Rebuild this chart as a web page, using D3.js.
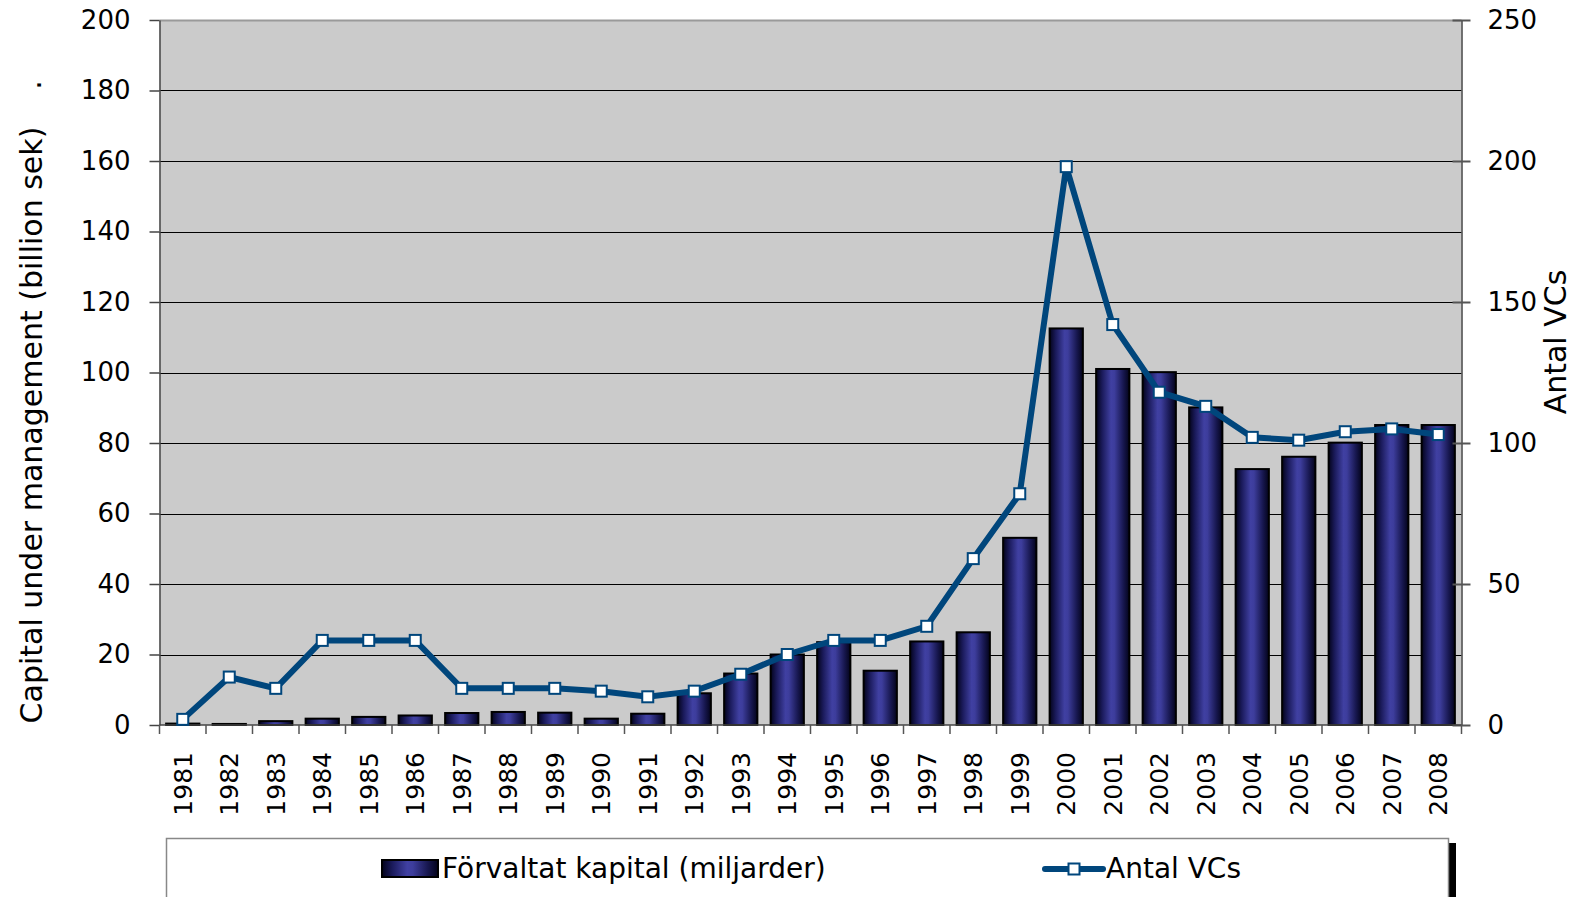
<!DOCTYPE html>
<html>
<head>
<meta charset="utf-8">
<script src="https://cdn.jsdelivr.net/npm/d3@7"></script>
<style>
  html, body { margin: 0; padding: 0; background: #ffffff; }
  svg { display: block; font-family: "DejaVu Sans", Verdana, sans-serif; }
</style>
</head>
<body>
<svg id="chart" width="1581" height="897"></svg>
<script>
// Swedish venture capital: capital under management and number of firms
const years = ["1981","1982","1983","1984","1985","1986","1987","1988","1989","1990",
  "1991","1992","1993","1994","1995","1996","1997","1998","1999","2000",
  "2001","2002","2003","2004","2005","2006","2007","2008"];
const capital = [0.4, 0.3, 1.1, 1.8, 2.3, 2.7, 3.4, 3.7, 3.5, 1.8,
  3.2, 9.0, 14.6, 20.0, 23.5, 15.4, 23.7, 26.3, 53.1, 112.5,
  101.0, 100.1, 90.1, 72.6, 76.1, 80.1, 85.1, 85.1];
const vcCount = [2, 17, 13, 30, 30, 30, 13, 13, 13, 12,
  10, 12, 18, 25, 30, 30, 35, 59, 82, 198,
  142, 118, 113, 102, 101, 104, 105, 103];
const leftTicks = [0, 20, 40, 60, 80, 100, 120, 140, 160, 180, 200];
const rightTicks = [0, 50, 100, 150, 200, 250];
const seriesNames = ["Förvaltat kapital (miljarder)", "Antal VCs"];
const leftTitle = "Capital under management (billion sek)";
const rightTitle = "Antal VCs";

const svg = d3.select("#chart");
const plot = { left: 159.5, right: 1461.5, top: 20, bottom: 725 };
const lineColor = "#00467c";

const x = d3.scaleBand().domain(years).range([plot.left, plot.right]).paddingInner(0).paddingOuter(0);
const yL = d3.scaleLinear().domain([0, 200]).range([plot.bottom, plot.top]);
const yR = d3.scaleLinear().domain([0, 250]).range([plot.bottom, plot.top]);

// bar shading: dark edges, lighter blue core
const defs = svg.append("defs");
const grad = defs.append("linearGradient").attr("id", "barGrad")
  .attr("x1", "0").attr("x2", "1").attr("y1", "0").attr("y2", "0");
[["0%", "#03031a"], ["18%", "#1a1a5a"], ["45%", "#4040a2"], ["55%", "#3d3d9c"], ["82%", "#17174f"], ["100%", "#03031a"]]
  .forEach(([o, c]) => grad.append("stop").attr("offset", o).attr("stop-color", c));

// plot background
svg.append("rect")
  .attr("x", plot.left).attr("y", plot.top)
  .attr("width", plot.right - plot.left).attr("height", plot.bottom - plot.top)
  .attr("fill", "#cbcbcb");

// horizontal gridlines
svg.append("g").selectAll("line")
  .data(leftTicks.filter(d => d > 0 && d < 200))
  .join("line")
  .attr("x1", plot.left).attr("x2", plot.right)
  .attr("y1", d => Math.round(yL(d)) + 0.5).attr("y2", d => Math.round(yL(d)) + 0.5)
  .attr("stroke", "#000").attr("stroke-width", 1.2);

// top border
svg.append("line")
  .attr("x1", plot.left).attr("x2", plot.right)
  .attr("y1", plot.top + 0.5).attr("y2", plot.top + 0.5)
  .attr("stroke", "#9a9a9a").attr("stroke-width", 2);

// bars
const bw = x.bandwidth() * 0.715;
svg.append("g").selectAll("rect")
  .data(years.map((yr, i) => ({ yr, v: capital[i] })))
  .join("rect")
  .attr("x", d => x(d.yr) + (x.bandwidth() - bw) / 2)
  .attr("y", d => yL(d.v))
  .attr("width", bw)
  .attr("height", d => yL(0) - yL(d.v))
  .attr("fill", "url(#barGrad)")
  .attr("stroke", "#000").attr("stroke-width", 2);

// left axis
const gL = svg.append("g").attr("transform", `translate(${plot.left},0)`)
  .call(d3.axisLeft(yL).tickValues(leftTicks).tickSize(10).tickSizeOuter(0).tickPadding(19));
gL.select(".domain").attr("stroke", "#444").attr("stroke-width", 1.5);
gL.selectAll(".tick line").attr("stroke", "#444").attr("stroke-width", 1.5);
gL.selectAll(".tick text").attr("font-size", 26).attr("fill", "#000")
  .attr("font-family", "'DejaVu Sans', Verdana, sans-serif");

// right axis (ticks cross the axis line)
const gR = svg.append("g").attr("transform", `translate(${plot.right},0)`)
  .call(d3.axisRight(yR).tickValues(rightTicks).tickSize(9).tickSizeOuter(0).tickPadding(17));
gR.select(".domain").attr("stroke", "#444").attr("stroke-width", 1.5);
gR.selectAll(".tick line").attr("x1", -9).attr("stroke", "#555").attr("stroke-width", 2);
gR.selectAll(".tick text").attr("font-size", 26).attr("fill", "#000")
  .attr("font-family", "'DejaVu Sans', Verdana, sans-serif");

// bottom axis: ticks between categories
const gB = svg.append("g");
gB.append("line")
  .attr("x1", plot.left).attr("x2", plot.right)
  .attr("y1", plot.bottom).attr("y2", plot.bottom)
  .attr("stroke", "#444").attr("stroke-width", 1.5);
gB.selectAll("line.tk")
  .data(years.concat(["end"]))
  .join("line").attr("class", "tk")
  .attr("x1", (d, i) => plot.left + i * x.step())
  .attr("x2", (d, i) => plot.left + i * x.step())
  .attr("y1", plot.bottom).attr("y2", plot.bottom + 9)
  .attr("stroke", "#555").attr("stroke-width", 1.5);
gB.selectAll("text")
  .data(years)
  .join("text")
  .attr("transform", d => `translate(${x(d) + x.bandwidth() / 2},752) rotate(-90)`)
  .attr("text-anchor", "end")
  .attr("dy", "0.36em")
  .attr("font-size", 25)
  .attr("fill", "#000")
  .text(d => d);

// VC count line
const line = d3.line()
  .x((d, i) => x(years[i]) + x.bandwidth() / 2)
  .y(d => yR(d));
svg.append("path")
  .datum(vcCount)
  .attr("d", line)
  .attr("fill", "none")
  .attr("stroke", lineColor)
  .attr("stroke-width", 6)
  .attr("stroke-linejoin", "miter");

const ms = 11;
svg.append("g").selectAll("rect")
  .data(vcCount)
  .join("rect")
  .attr("x", (d, i) => x(years[i]) + x.bandwidth() / 2 - ms / 2)
  .attr("y", d => yR(d) - ms / 2)
  .attr("width", ms).attr("height", ms)
  .attr("fill", "#fff")
  .attr("stroke", lineColor).attr("stroke-width", 2);

// axis titles
svg.append("text")
  .attr("transform", "translate(42,425) rotate(-90)")
  .attr("text-anchor", "middle")
  .attr("font-size", 30)
  .attr("fill", "#000")
  .text(leftTitle);
svg.append("text")
  .attr("transform", "translate(41,85) rotate(-90)")
  .attr("text-anchor", "middle")
  .attr("font-size", 30)
  .attr("fill", "#000")
  .text(".");
svg.append("text")
  .attr("transform", "translate(1566,342) rotate(-90)")
  .attr("text-anchor", "middle")
  .attr("font-size", 30)
  .attr("fill", "#000")
  .text(rightTitle);

// legend box with drop shadow on the right
const lg = svg.append("g");
lg.append("rect")
  .attr("x", 1449).attr("y", 843).attr("width", 7).attr("height", 60)
  .attr("fill", "#000");
lg.append("rect")
  .attr("x", 166.5).attr("y", 838.5).attr("width", 1282).attr("height", 70)
  .attr("fill", "#fff").attr("stroke", "#888").attr("stroke-width", 1.5);

lg.append("rect")
  .attr("x", 382).attr("y", 860).attr("width", 56).attr("height", 17)
  .attr("fill", "url(#barGrad)").attr("stroke", "#000").attr("stroke-width", 2);
lg.append("text")
  .attr("x", 442).attr("y", 878)
  .attr("font-size", 28).attr("fill", "#000")
  .text(seriesNames[0]);

lg.append("line")
  .attr("x1", 1045).attr("x2", 1103).attr("y1", 869).attr("y2", 869)
  .attr("stroke", lineColor).attr("stroke-width", 6).attr("stroke-linecap", "round");
lg.append("rect")
  .attr("x", 1074 - ms / 2).attr("y", 869 - ms / 2).attr("width", ms).attr("height", ms)
  .attr("fill", "#fff").attr("stroke", lineColor).attr("stroke-width", 2);
lg.append("text")
  .attr("x", 1106).attr("y", 878)
  .attr("font-size", 28).attr("fill", "#000")
  .text(seriesNames[1]);
</script>
</body>
</html>
